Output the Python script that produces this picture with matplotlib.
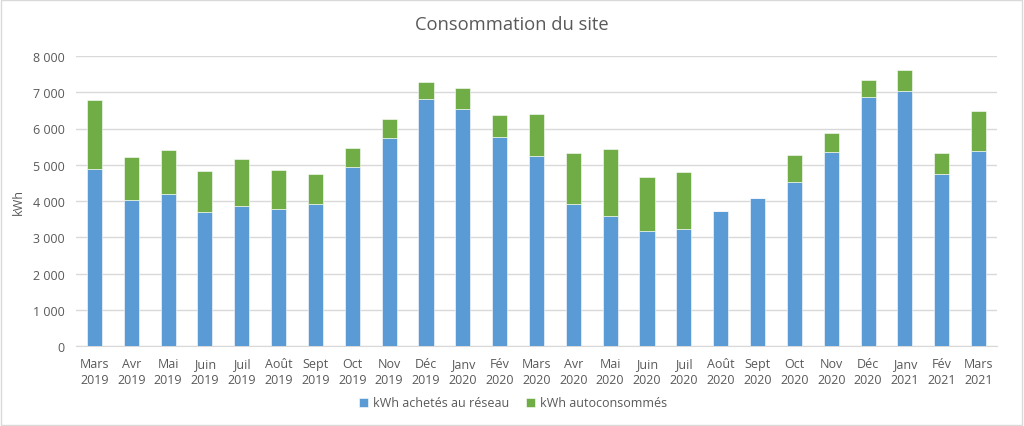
import matplotlib
matplotlib.use('Agg')
import matplotlib.pyplot as plt
from matplotlib.patches import Rectangle
from matplotlib.ticker import FuncFormatter, MultipleLocator
import numpy as np

# --- Data (kWh par mois) ---
months = ['Mars', 'Avr', 'Mai', 'Juin', 'Juil', 'Août', 'Sept', 'Oct', 'Nov', 'Déc',
          'Janv', 'Fév', 'Mars', 'Avr', 'Mai', 'Juin', 'Juil', 'Août', 'Sept', 'Oct',
          'Nov', 'Déc', 'Janv', 'Fév', 'Mars']
years = ['2019'] * 10 + ['2020'] * 12 + ['2021'] * 3
labels = [f"{m}\n{y}" for m, y in zip(months, years)]

reseau = [4880, 4040, 4190, 3690, 3860, 3790, 3910, 4930, 5730, 6820,
          6550, 5760, 5245, 3910, 3580, 3180, 3225, 3715, 4075, 4515,
          5345, 6865, 7025, 4740, 5390]
autoconso = [1900, 1170, 1225, 1150, 1290, 1070, 830, 525, 525, 450,
             555, 620, 1150, 1410, 1860, 1495, 1570, 0, 0, 750,
             525, 480, 580, 590, 1105]

BLUE = '#5B9BD5'
GREEN = '#70AD47'
TXT = '#595959'
FS = 9

plt.rcParams['font.family'] = ['Open Sans', 'DejaVu Sans']

fig = plt.figure(figsize=(10.24, 4.27), dpi=100)
ax = fig.add_axes([76 / 1024, 1 - 347 / 427, (997 - 76) / 1024, (347 - 57) / 427])

x = np.arange(len(labels))
ax.bar(x, reseau, width=0.41, color=BLUE, edgecolor='white', linewidth=0.4,
       label='kWh achetés au réseau', zorder=3)
ax.bar(x, autoconso, width=0.41, bottom=reseau, color=GREEN, edgecolor='white',
       linewidth=0.4, label='kWh autoconsommés', zorder=3)

ax.set_xlim(-0.5, len(labels) - 0.5)
ax.set_ylim(0, 8000)
ax.yaxis.set_major_locator(MultipleLocator(1000))
ax.yaxis.set_major_formatter(FuncFormatter(lambda v, p: f"{int(v):,}".replace(',', ' ')))
ax.grid(axis='y', color='#D9D9D9', linewidth=1, zorder=0)
ax.set_xticks(x)
ax.set_xticklabels(labels, fontsize=FS, color=TXT, linespacing=1.25)
ax.tick_params(axis='x', length=0, pad=8, labelsize=FS, labelcolor=TXT)
ax.tick_params(axis='y', length=0, pad=8, labelsize=FS, labelcolor=TXT)
for s in ['top', 'right', 'left']:
    ax.spines[s].set_visible(False)
ax.spines['bottom'].set_color('#D9D9D9')

ax.set_ylabel('kWh', fontsize=FS, color=TXT, labelpad=6)
fig.text(0.5, 1 - 25 / 427, 'Consommation du site', ha='center', va='center',
         fontsize=13.2, color=TXT)

leg = ax.legend(loc='center', bbox_to_anchor=(513 / 1024, 1 - 404 / 427),
                bbox_transform=fig.transFigure, ncol=2, frameon=False,
                fontsize=FS, handlelength=0.7, handleheight=0.7,
                columnspacing=1.4, handletextpad=0.4)
for t in leg.get_texts():
    t.set_color(TXT)

fig.patches.append(Rectangle((0.001, 0.002), 0.997, 0.996, transform=fig.transFigure,
                             fill=False, edgecolor='#D9D9D9', linewidth=1))

fig.savefig('out.png', dpi=100)
